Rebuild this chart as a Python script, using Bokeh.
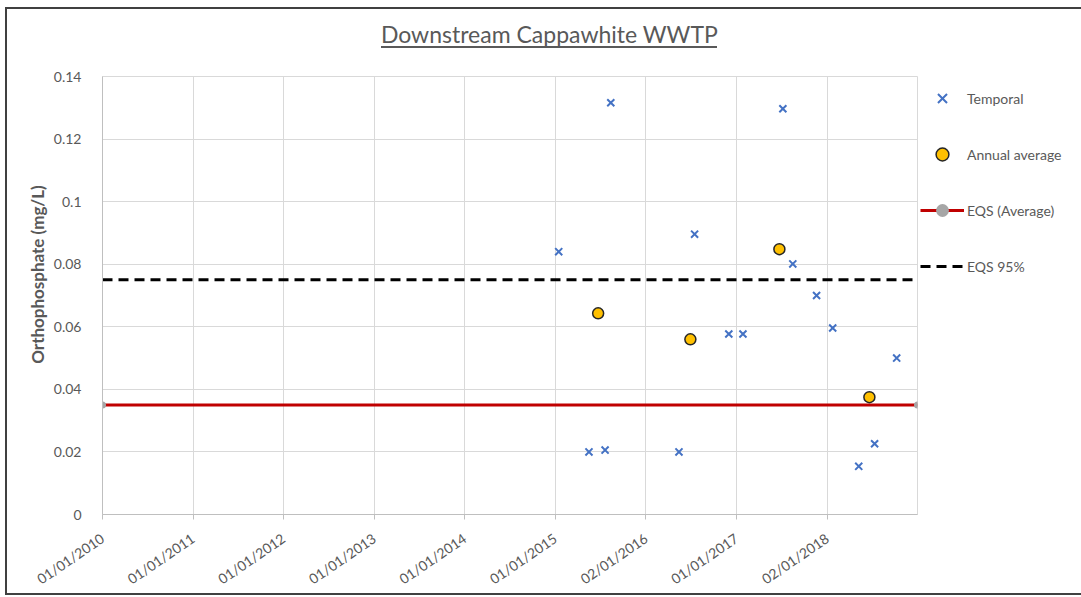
import pandas as pd
from bokeh.plotting import figure
from bokeh.layouts import row
from bokeh.models import (ColumnDataSource, Legend, LegendItem, FixedTicker,
                          Label, Range1d)
from bokeh.embed import file_html
from bokeh.resources import INLINE

# ---------------- data ----------------
temporal_dates = ["2015-01-15", "2015-05-17", "2015-07-21", "2015-08-13",
                  "2016-05-14", "2016-07-16", "2016-12-01", "2017-01-27",
                  "2017-07-07", "2017-08-16", "2017-11-20", "2018-01-24",
                  "2018-05-09", "2018-07-12", "2018-10-09"]
temporal_values = [0.084, 0.020, 0.0206, 0.1316,
                   0.020, 0.0896, 0.0577, 0.0577,
                   0.1297, 0.0801, 0.070, 0.0596,
                   0.0154, 0.0226, 0.050]

annual_dates = ["2015-06-23", "2016-06-29", "2017-06-23", "2018-06-21"]
annual_values = [0.0643, 0.0560, 0.0848, 0.0375]

eqs_dates = ["2010-01-01", "2019-01-01"]
eqs_average = [0.035, 0.035]
eqs_95 = [0.075, 0.075]

x_tick_dates = ["2010-01-01", "2011-01-01", "2012-01-01", "2013-01-01",
                "2014-01-01", "2015-01-01", "2016-01-02", "2017-01-01",
                "2018-01-02"]
x_tick_labels = ["01/01/2010", "01/01/2011", "01/01/2012", "01/01/2013",
                 "01/01/2014", "01/01/2015", "02/01/2016", "01/01/2017",
                 "02/01/2018"]
y_ticks = [0, 0.02, 0.04, 0.06, 0.08, 0.10, 0.12, 0.14]
y_tick_labels = ["0", "0.02", "0.04", "0.06", "0.08", "0.1", "0.12", "0.14"]

title_text = "Downstream Cappawhite WWTP"
y_label_text = "Orthophosphate (mg/L)"
legend_labels = ["Temporal", "Annual average", "EQS (Average)", "EQS 95%"]


def ms(dates):
    return [pd.Timestamp(d).value / 1e6 for d in dates]


FONT = "Lato"
GREY = "#595959"
W, H = 1081, 597
PW = 920  # width of the chart figure; legend figure takes the rest

p = figure(width=PW, height=H, output_backend="svg", toolbar_location=None,
           x_axis_type="datetime",
           x_range=Range1d(ms(eqs_dates)[0], ms(eqs_dates)[1]),
           y_range=Range1d(0, 0.14))
p.min_border_left = 102
p.min_border_right = PW - 917
p.min_border_top = 76
p.min_border_bottom = H - 515
p.background_fill_color = "white"
p.border_fill_alpha = 0
p.outline_line_color = "#D9D9D9"

# axes
xt = ms(x_tick_dates)
p.xaxis.ticker = FixedTicker(ticks=xt)
p.xaxis.major_label_overrides = {t: l for t, l in zip(xt, x_tick_labels)}
p.xaxis.major_label_orientation = 0.6
p.xaxis.major_tick_out = 5
p.xaxis.major_tick_in = 0
p.xaxis.minor_tick_line_color = None
p.xaxis.axis_line_color = "#BFBFBF"
p.xaxis.major_tick_line_color = "#BFBFBF"
p.xaxis.major_label_text_font = FONT
p.xaxis.major_label_text_font_size = "14px"
p.xaxis.major_label_text_color = GREY
p.xaxis.major_label_standoff = 17

p.yaxis.ticker = FixedTicker(ticks=y_ticks)
p.yaxis.major_label_overrides = {t: l for t, l in zip(y_ticks, y_tick_labels)}
p.yaxis.major_tick_line_color = None
p.yaxis.minor_tick_line_color = None
p.yaxis.axis_line_color = "#BFBFBF"
p.yaxis.major_label_text_font = FONT
p.yaxis.major_label_text_font_size = "14px"
p.yaxis.major_label_text_color = GREY
p.yaxis.major_label_standoff = 15

p.xgrid.ticker = FixedTicker(ticks=xt)
p.grid.grid_line_color = "#D9D9D9"
p.grid.grid_line_width = 1

# series
src_t = ColumnDataSource(dict(x=ms(temporal_dates), y=temporal_values))
src_a = ColumnDataSource(dict(x=ms(annual_dates), y=annual_values))
src_e = ColumnDataSource(dict(x=ms(eqs_dates), avg=eqs_average, p95=eqs_95))

STY_T = dict(marker="x", size=10, line_color="#4472C4", line_width=2)
STY_A = dict(marker="circle", size=11, fill_color="#FFC000",
             line_color="#262626", line_width=1.5)
STY_AVG = dict(line_color="#C00000", line_width=3)
STY_AVG_M = dict(marker="circle", size=7, fill_color="#A6A6A6", line_color=None)
STY_95 = dict(line_color="black", line_width=3, line_dash="10 6")

p.line("x", "avg", source=src_e, **STY_AVG)
p.scatter("x", "avg", source=src_e, **STY_AVG_M)
p.line("x", "p95", source=src_e, **STY_95)
p.scatter("x", "y", source=src_t, **STY_T)
p.scatter("x", "y", source=src_a, **STY_A)

# title (text in the above panel) and y-axis title (left panel)
p.add_layout(Label(x=549, y=33, x_units="canvas", y_units="canvas",
                   text=title_text, text_align="center",
                   text_baseline="alphabetic", text_font=FONT,
                   text_font_size="23px", text_color=GREY), "above")
p.add_layout(Label(x=37, y=274, x_units="canvas", y_units="canvas",
                   text=y_label_text, angle=1.5708, text_align="center",
                   text_baseline="middle", text_font=FONT,
                   text_font_style="bold", text_font_size="17px",
                   text_color=GREY), "left")

# legend figure to the right of the chart (same series renderers, off view)
lf = figure(width=W - PW, height=H, output_backend="svg", toolbar_location=None,
            x_axis_location=None, y_axis_location=None,
            x_range=Range1d(0, 1), y_range=Range1d(0, 1))
lf.min_border_left = lf.min_border_right = 0
lf.min_border_top = lf.min_border_bottom = 0
lf.grid.visible = False
lf.outline_line_color = None
lf.background_fill_alpha = 0
lf.border_fill_alpha = 0
lr_t = lf.scatter("x", "y", source=src_t, **STY_T)
lr_a = lf.scatter("x", "y", source=src_a, **STY_A)
lr_avg = lf.line("x", "avg", source=src_e, **STY_AVG)
lr_avg_m = lf.scatter("x", "avg", source=src_e, **STY_AVG_M)
lr_95 = lf.line("x", "p95", source=src_e, **STY_95)

legend = Legend(items=[
    LegendItem(label=legend_labels[0], renderers=[lr_t]),
    LegendItem(label=legend_labels[1], renderers=[lr_a]),
    LegendItem(label=legend_labels[2], renderers=[lr_avg, lr_avg_m]),
    LegendItem(label=legend_labels[3], renderers=[lr_95]),
], location=(0, 232))
legend.glyph_width = 44
legend.glyph_height = 32
legend.label_height = 32
legend.spacing = 24
legend.padding = 3
legend.margin = 0
legend.label_standoff = 3
legend.border_line_color = None
legend.background_fill_alpha = 0
legend.label_text_font = FONT
legend.label_text_font_size = "14px"
legend.label_text_color = GREY
lf.add_layout(legend)

layout = row(p, lf, spacing=0)

# chart border and title underline as decoration behind the canvases
dark = "linear-gradient(#404040,#404040)"
ul = "linear-gradient(#595959,#595959)"
layout.styles = {"background": (
    f"{dark} 5px 7px / 2px 588px no-repeat, "
    f"{dark} 5px 7px / 1076px 2px no-repeat, "
    f"{dark} 5px 593px / 1076px 2px no-repeat, "
    f"{ul} 381px 46px / 336px 2px no-repeat, white")}

open("out.html", "w").write(file_html(layout, INLINE))
